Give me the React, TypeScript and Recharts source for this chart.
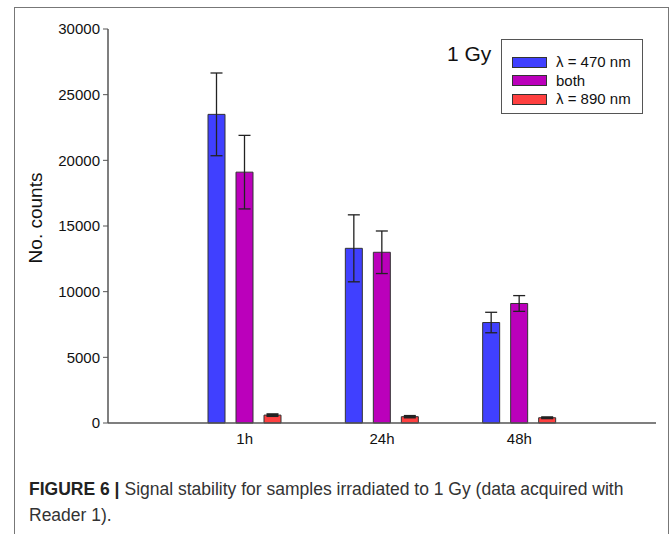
import React from 'react';
import { BarChart, Bar, XAxis, YAxis, ErrorBar } from 'recharts';

const categories = ['1h', '24h', '48h'];
const blueValues = [23500, 13300, 7650];
const blueErrors = [3150, 2550, 780];
const bothValues = [19100, 13000, 9100];
const bothErrors = [2800, 1620, 600];
const redValues = [600, 480, 400];
const redErrors = [70, 60, 40];
const yTicks = [0, 5000, 10000, 15000, 20000, 25000, 30000];

const data = categories.map((c, i) => ({
  cat: c,
  blue: blueValues[i],
  blueErr: blueErrors[i],
  both: bothValues[i],
  bothErr: bothErrors[i],
  red: redValues[i],
  redErr: redErrors[i],
}));

const FONT = '"Liberation Sans", Arial, Helvetica, sans-serif';
const AXIS = '#555';
const BLUE = '#4040FF';
const PURPLE = '#BB00BB';
const RED = '#FF4040';

const legendItems = [
  { color: BLUE, label: 'λ = 470 nm' },
  { color: PURPLE, label: 'both' },
  { color: RED, label: 'λ = 890 nm' },
];

const captionStyle: React.CSSProperties = {
  position: 'absolute',
  whiteSpace: 'nowrap',
  fontFamily: '"Liberation Sans Narrow", "Liberation Sans", Arial, sans-serif',
  fontSize: 17.5,
  lineHeight: '22px',
  color: '#333',
};

export default function App() {
  return (
    <div style={{ position: 'absolute', left: 0, top: 0, width: 670, height: 534, background: '#fff', overflow: 'hidden', fontFamily: FONT }}>
      <div style={{ position: 'absolute', left: 14, top: 7, width: 653, height: 600, borderLeft: '1px solid #777', borderTop: '1px solid #777', borderRight: '1px solid #777' }} />
      <BarChart
        width={670}
        height={534}
        data={data}
        margin={{ top: 29, right: 14, bottom: 81, left: 0 }}
        barSize={17}
        barGap={11}
        style={{ position: 'absolute', left: 0, top: 0 }}
      >
        <XAxis
          dataKey="cat"
          padding={{ left: 68, right: 68 }}
          height={30}
          tickLine={false}
          axisLine={{ stroke: AXIS, strokeWidth: 1.5 }}
          tick={{ fill: '#111', fontSize: 15, fontFamily: FONT }}
          tickSize={5}
          tickMargin={5}
        />
        <XAxis xAxisId="top" orientation="top" dataKey="cat" height={0} tick={false} tickLine={false} axisLine={{ stroke: AXIS, strokeWidth: 1.5 }} />
        <YAxis
          domain={[0, 30000]}
          ticks={yTicks}
          width={108}
          interval={0}
          tickSize={5}
          tickMargin={3}
          tickLine={{ stroke: AXIS }}
          axisLine={{ stroke: AXIS, strokeWidth: 1.5 }}
          tick={{ fill: '#111', fontSize: 15, fontFamily: FONT }}
          label={{
            content: (props: any) => {
              const vb = props.viewBox || { x: 0, y: 29, width: 108, height: 394 };
              const x = vb.x + 35;
              const y = vb.y + vb.height / 2 - 8;
              return (
                <text x={x} y={y} transform={`rotate(-90 ${x} ${y})`} textAnchor="middle" dominantBaseline="central" fontSize={19} fontFamily={FONT} fill="#111">
                  No. counts
                </text>
              );
            },
          }}
        />
        <YAxis yAxisId="right" orientation="right" domain={[0, 30000]} width={0} tick={false} tickLine={false} axisLine={{ stroke: AXIS, strokeWidth: 1.5 }} />
        <Bar dataKey="blue" fill={BLUE} stroke="#333" strokeWidth={1} isAnimationActive={false}>
          <ErrorBar dataKey="blueErr" width={6} stroke="#222" strokeWidth={1.3} direction="y" />
        </Bar>
        <Bar dataKey="both" fill={PURPLE} stroke="#333" strokeWidth={1} isAnimationActive={false}>
          <ErrorBar dataKey="bothErr" width={6} stroke="#222" strokeWidth={1.3} direction="y" />
        </Bar>
        <Bar dataKey="red" fill={RED} stroke="#333" strokeWidth={1} isAnimationActive={false}>
          <ErrorBar dataKey="redErr" width={6} stroke="#222" strokeWidth={2} direction="y" />
        </Bar>
      </BarChart>
      <div style={{ position: 'absolute', left: 447, top: 42, fontSize: 21, color: '#111' }}>1 Gy</div>
      <div style={{ position: 'absolute', left: 501, top: 39, width: 142, height: 75, border: '1px solid #555', boxSizing: 'border-box' }}>
        {legendItems.map((it, i) => (
          <div key={i} style={{ position: 'absolute', left: 10, top: 15 + i * 18.5, height: 14, display: 'flex', alignItems: 'center' }}>
            <div style={{ width: 35, height: 11, background: it.color, border: '1px solid #333', boxSizing: 'border-box' }} />
            <span style={{ marginLeft: 9, fontSize: 15, color: '#111', lineHeight: '14px' }}>{it.label}</span>
          </div>
        ))}
      </div>
      <div style={{ ...captionStyle, left: 29, top: 478 }}>
        <span style={{ fontWeight: 'bold', color: '#222' }}>FIGURE 6 |</span>
        <span style={{ marginLeft: 5 }}>Signal stability for samples irradiated to 1 Gy (data acquired with</span>
      </div>
      <div style={{ ...captionStyle, left: 29, top: 504 }}>Reader 1).</div>
    </div>
  );
}
